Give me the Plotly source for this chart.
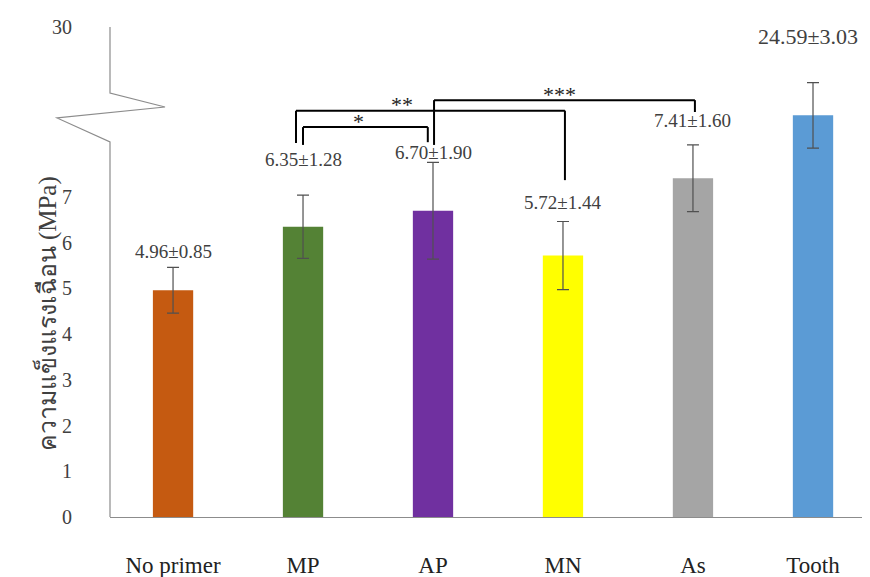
import plotly.graph_objects as go

# ---- data ----
categories = ["No primer", "MP", "AP", "MN", "As"]
means = [4.96, 6.35, 6.70, 5.72, 7.41]
sds = [0.85, 1.28, 1.90, 1.44, 1.60]
err_drawn = [0.50, 0.69, 1.06, 0.745, 0.73]   # error-bar half-lengths as drawn
tooth_category = ["Tooth"]
tooth_mean = [24.59]
tooth_sd = [3.03]
tooth_err_drawn = [2.0]
bar_colors = ["#C55A11", "#548235", "#7030A0", "#FFFF00", "#A5A5A5"]
tooth_color = "#5B9BD5"
y_ticks = [0, 1, 2, 3, 4, 5, 6, 7]
break_top_label = "30"

SERIF = "Liberation Serif"
TXT = "#404040"

fig = go.Figure()
fig.add_trace(go.Bar(
    x=categories, y=means, marker=dict(color=bar_colors, line=dict(width=0)),
    width=0.31,
    error_y=dict(type="data", array=err_drawn, color="#505050", thickness=1.2, width=6),
    xaxis="x", yaxis="y", showlegend=False, hoverinfo="skip"))
fig.add_trace(go.Bar(
    x=tooth_category, y=tooth_mean, marker=dict(color=tooth_color, line=dict(width=0)),
    width=0.31,
    error_y=dict(type="data", array=tooth_err_drawn, color="#505050", thickness=1.2, width=6),
    xaxis="x2", yaxis="y2", showlegend=False, hoverinfo="skip"))

# value labels
label_gap = [0.35, 0.78, 0.22, 0.42, 0.53]
annotations = []
for i, (m, s, e, g) in enumerate(zip(means, sds, err_drawn, label_gap)):
    annotations.append(dict(x=i, y=m + e + g, xref="x", yref="y",
                            text=f"{m:.2f}±{s:.2f}", showarrow=False,
                            font=dict(family=SERIF, size=19, color=TXT)))
annotations.append(dict(x=0, y=tooth_mean[0] + tooth_err_drawn[0] + 2.85, xref="x2", yref="y2",
                        text=f"{tooth_mean[0]:.2f}±{tooth_sd[0]:.2f}", showarrow=False, xshift=-5,
                        font=dict(family=SERIF, size=22, color=TXT)))

# y axis title (Thai)
annotations.append(dict(x=-0.105, y=0.414, xref="paper", yref="paper",
                        text="ความแข็งแรงเฉือน (MPa)", textangle=-90, showarrow=False,
                        font=dict(family=SERIF, size=25, color=TXT)))

shapes = []
# broken y-axis line with zigzag
zig = "M 0 1 L 0 0.8653 L 0.0724 0.8367 L -0.0697 0.8143 L 0 0.7653 L 0 0"
shapes.append(dict(type="path", path=zig, xref="paper", yref="paper",
                   line=dict(color="#8c8c8c", width=1.2)))

# significance brackets
brackets = [
    (1, -0.054, 3, 0.015, 8.89, 8.18, 7.37, "**", 1.76, 9.03),
    (1, 0.0, 2, -0.04, 8.53, 8.14, 8.20, "*", 1.43, 8.66),
    (2, 0.008, 4, 0.015, 9.12, 8.14, 8.86, "***", 2.97, 9.24),
]
for li, ldx, ri, rdx, yt, ylb, yrb, lab, lx, ly in brackets:
    xl, xr = li + ldx, ri + rdx
    for (x0, y0, x1, y1) in [(xl, ylb, xl, yt), (xl, yt, xr, yt), (xr, yt, xr, yrb)]:
        shapes.append(dict(type="line", xref="x", yref="y", x0=x0, y0=y0, x1=x1, y1=y1,
                           line=dict(color="black", width=2)))
    annotations.append(dict(x=lx, y=ly, xref="x", yref="y", text=lab, showarrow=False,
                            yanchor="middle", font=dict(family=SERIF, size=22, color="#222")))

fig.update_layout(
    width=862, height=569,
    margin=dict(l=102, r=0, t=19, b=60),
    font=dict(family=SERIF),
    paper_bgcolor="white", plot_bgcolor="white",
    bargap=0.5,
    xaxis=dict(domain=[0, 0.8329], range=[-0.485, 4.385], showline=True, linecolor="#8c8c8c",
               linewidth=1.2, showgrid=False, zeroline=False, ticks="", automargin=False,
               tickfont=dict(family=SERIF, size=23, color="#222"), ticklabelstandoff=27,
               anchor="y"),
    xaxis2=dict(domain=[0.8329, 1], range=[-0.538, 0.438], showline=True, linecolor="#8c8c8c",
                linewidth=1.2, showgrid=False, zeroline=False, ticks="", automargin=False,
                tickfont=dict(family=SERIF, size=23, color="#222"), ticklabelstandoff=27,
                anchor="y2"),
    yaxis=dict(range=[0, 10.72], tickvals=y_ticks + [10.72],
               ticktext=[str(t) for t in y_ticks] + [break_top_label], automargin=False,
               showline=False, showgrid=False, zeroline=False, ticks="",
               tickfont=dict(family=SERIF, size=20, color="#404040"), ticklabelstandoff=37),
    yaxis2=dict(range=[0, 30], overlaying="y", anchor="x2", visible=False, showgrid=False),
    shapes=shapes, annotations=annotations,
)

fig.write_html("out.html")
